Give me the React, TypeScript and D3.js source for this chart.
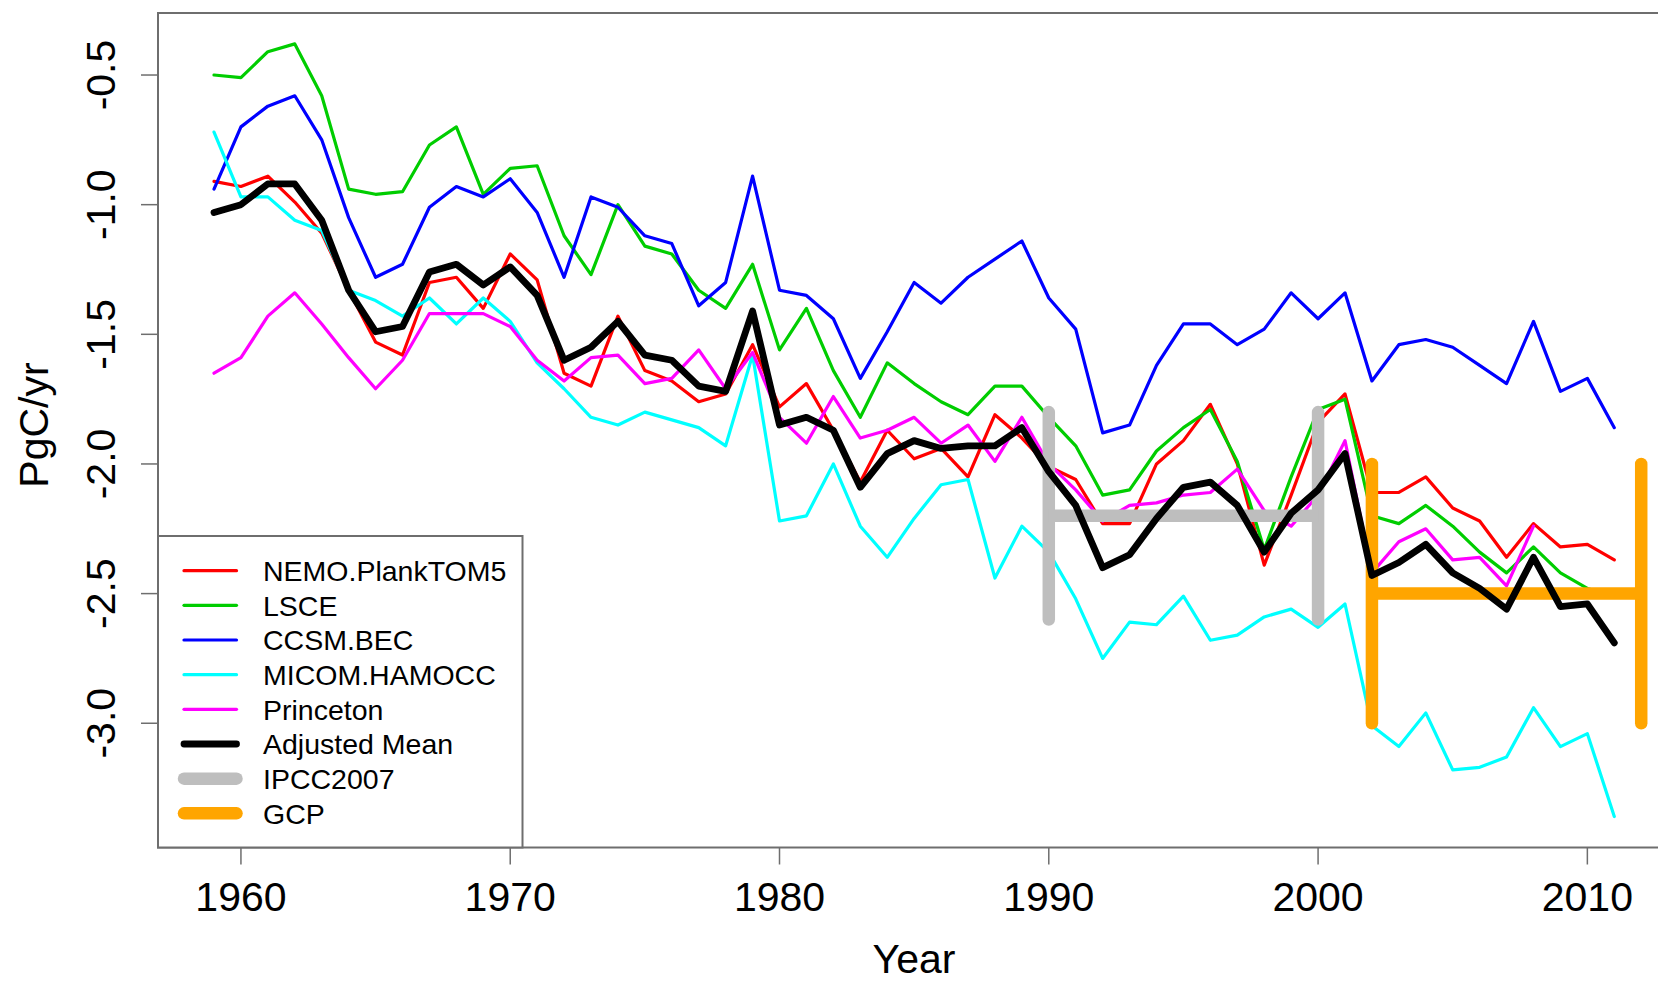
import React from "react";
import * as d3 from "d3";

// ocean CO2 sink, PgC/yr, 1959..2011
const years = d3.range(1959, 2012);

const nemo = [-0.91, -0.93, -0.89, -0.99, -1.11, -1.33, -1.53, -1.58, -1.30, -1.28, -1.40, -1.19, -1.29, -1.65, -1.70, -1.43, -1.64, -1.68, -1.76, -1.73, -1.54, -1.78, -1.69, -1.87, -2.07, -1.87, -1.98, -1.94, -2.05, -1.81, -1.90, -2.01, -2.06, -2.23, -2.23, -2.00, -1.91, -1.77, -2.00, -2.39, -2.12, -1.84, -1.73, -2.11, -2.11, -2.05, -2.17, -2.22, -2.36, -2.23, -2.32, -2.31, -2.37];
const lsce = [-0.50, -0.51, -0.41, -0.38, -0.58, -0.94, -0.96, -0.95, -0.77, -0.70, -0.96, -0.86, -0.85, -1.12, -1.27, -1.00, -1.16, -1.19, -1.33, -1.40, -1.23, -1.56, -1.40, -1.64, -1.82, -1.61, -1.69, -1.76, -1.81, -1.70, -1.70, -1.82, -1.93, -2.12, -2.10, -1.95, -1.86, -1.79, -1.99, -2.33, -2.05, -1.79, -1.75, -2.20, -2.23, -2.16, -2.24, -2.34, -2.42, -2.32, -2.42, -2.48, -2.51];
const ccsm = [-0.94, -0.70, -0.62, -0.58, -0.75, -1.05, -1.28, -1.23, -1.01, -0.93, -0.97, -0.90, -1.03, -1.28, -0.97, -1.01, -1.12, -1.15, -1.39, -1.30, -0.89, -1.33, -1.35, -1.44, -1.67, -1.49, -1.30, -1.38, -1.28, -1.21, -1.14, -1.36, -1.48, -1.88, -1.85, -1.62, -1.46, -1.46, -1.54, -1.48, -1.34, -1.44, -1.34, -1.68, -1.54, -1.52, -1.55, -1.62, -1.69, -1.45, -1.72, -1.67, -1.86];
const micom = [-0.72, -0.97, -0.97, -1.06, -1.10, -1.33, -1.37, -1.43, -1.36, -1.46, -1.36, -1.45, -1.61, -1.71, -1.82, -1.85, -1.80, -1.83, -1.86, -1.93, -1.58, -2.22, -2.20, -2.00, -2.24, -2.36, -2.21, -2.08, -2.06, -2.44, -2.24, -2.34, -2.52, -2.75, -2.61, -2.62, -2.51, -2.68, -2.66, -2.59, -2.56, -2.63, -2.54, -3.01, -3.09, -2.96, -3.18, -3.17, -3.13, -2.94, -3.09, -3.04, -3.36];
const princeton = [-1.65, -1.59, -1.43, -1.34, -1.46, -1.59, -1.71, -1.60, -1.42, -1.42, -1.42, -1.47, -1.60, -1.68, -1.59, -1.58, -1.69, -1.67, -1.56, -1.71, -1.57, -1.82, -1.92, -1.74, -1.90, -1.87, -1.82, -1.92, -1.85, -1.99, -1.82, -2.00, -2.10, -2.22, -2.16, -2.15, -2.12, -2.11, -2.02, -2.18, -2.24, -2.12, -1.91, -2.42, -2.30, -2.25, -2.37, -2.36, -2.47, -2.24, NaN, NaN, NaN];
const adjMean = [-1.03, -1.00, -0.92, -0.92, -1.06, -1.33, -1.49, -1.47, -1.26, -1.23, -1.31, -1.24, -1.35, -1.60, -1.55, -1.45, -1.58, -1.60, -1.70, -1.72, -1.41, -1.85, -1.82, -1.87, -2.09, -1.96, -1.91, -1.94, -1.93, -1.93, -1.86, -2.03, -2.16, -2.40, -2.35, -2.21, -2.09, -2.07, -2.16, -2.34, -2.19, -2.10, -1.96, -2.43, -2.38, -2.31, -2.42, -2.48, -2.56, -2.36, -2.55, -2.54, -2.69];

// IPCC2007 and GCP ranges: [start, end, mean, low, high]
const ipcc = [1990, 2000, -2.2, -2.6, -1.8];
const gcp = [2002, 2012, -2.5, -3.0, -2.0];

const xTicks = [1960, 1970, 1980, 1990, 2000, 2010];
const yTicks = [-0.5, -1.0, -1.5, -2.0, -2.5, -3.0];

const series = [
  { name: "NEMO.PlankTOM5", values: nemo, color: "#FF0000", w: 3.2 },
  { name: "LSCE", values: lsce, color: "#00CD00", w: 3.2 },
  { name: "CCSM.BEC", values: ccsm, color: "#0000FF", w: 3.2 },
  { name: "MICOM.HAMOCC", values: micom, color: "#00FFFF", w: 3.2 },
  { name: "Princeton", values: princeton, color: "#FF00FF", w: 3.2 },
];

const legendItems = [
  ...series.map(s => ({ name: s.name, color: s.color, w: s.w })),
  { name: "Adjusted Mean", color: "#000000", w: 6.8 },
  { name: "IPCC2007", color: "#BEBEBE", w: 12.5 },
  { name: "GCP", color: "#FFA500", w: 12.5 },
];

const W = 1658, H = 983;
const font = "'Liberation Sans', Arial, Helvetica, sans-serif";

// R-style 4% axis padding
function pad(ext) {
  const d = (ext[1] - ext[0]) * 0.04;
  return [ext[0] - d, ext[1] + d];
}

export default function App() {
  const left = 158, right = 1670.3, top = 13, bottom = 847.5;
  const allY = [...nemo, ...lsce, ...ccsm, ...micom, ...princeton, ...adjMean].filter(v => !isNaN(v));
  const x = d3.scaleLinear().domain(pad(d3.extent(years))).range([left, right]);
  const y = d3.scaleLinear().domain(pad(d3.extent(allY))).range([bottom, top]);

  const line = d3.line()
    .defined(d => !isNaN(d[1]))
    .x(d => x(d[0]))
    .y(d => y(d[1]));
  const pts = vals => years.map((yr, i) => [yr, vals[i]]);

  const bracket = (r, color) => (
    <g stroke={color} strokeWidth={12.5} strokeLinecap="round" fill="none">
      <line x1={x(r[0])} x2={x(r[0])} y1={y(r[3])} y2={y(r[4])} />
      <line x1={x(r[1])} x2={x(r[1])} y1={y(r[3])} y2={y(r[4])} />
      <line x1={x(r[0])} x2={x(r[1])} y1={y(r[2])} y2={y(r[2])} strokeLinecap="butt" />
    </g>
  );

  const legX = left, legY = 536, legW = 364.5, legH = bottom - 536;
  const rowY0 = 570.7, rowStep = 34.66;

  return (
    <div style={{ position: "absolute", left: 0, top: 0 }}>
      <svg width={W} height={H} style={{ display: "block", background: "#fff" }} fontFamily={font}>
        <defs>
          <clipPath id="plot">
            <rect x={left} y={top} width={right - left} height={bottom - top} />
          </clipPath>
        </defs>
        <g clipPath="url(#plot)" fill="none" strokeLinejoin="round" strokeLinecap="round">
          {series.map(s => (
            <path key={s.name} d={line(pts(s.values))} stroke={s.color} strokeWidth={s.w} />
          ))}
          {bracket(ipcc, "#BEBEBE")}
          {bracket(gcp, "#FFA500")}
          <path d={line(pts(adjMean))} stroke="#000" strokeWidth={6.8} />
        </g>

        {/* box */}
        <rect x={left} y={top} width={right - left} height={bottom - top} fill="none" stroke="#6e6e6e" strokeWidth={2} />

        {/* x axis */}
        {xTicks.map(t => (
          <g key={t}>
            <line x1={x(t)} x2={x(t)} y1={bottom} y2={bottom + 17} stroke="#6e6e6e" strokeWidth={1.5} />
            <text x={x(t)} y={911} fontSize={41} textAnchor="middle" fill="#000">{t}</text>
          </g>
        ))}
        {/* y axis */}
        {yTicks.map(t => (
          <g key={t}>
            <line x1={left - 17} x2={left} y1={y(t)} y2={y(t)} stroke="#6e6e6e" strokeWidth={1.5} />
            <text transform={`translate(115,${y(t)}) rotate(-90)`} fontSize={41} textAnchor="middle" fill="#000">
              {t.toFixed(1)}
            </text>
          </g>
        ))}
        <text x={914} y={973} fontSize={41} textAnchor="middle" fill="#000">Year</text>
        <text transform="translate(48,425) rotate(-90)" fontSize={41} textAnchor="middle" fill="#000">PgC/yr</text>

        {/* legend */}
        <rect x={legX} y={legY} width={legW} height={legH} fill="#fff" stroke="#6e6e6e" strokeWidth={2} />
        {legendItems.map((it, i) => {
          const ry = rowY0 + i * rowStep;
          return (
            <g key={it.name}>
              <line x1={184} x2={236.5} y1={ry} y2={ry} stroke={it.color} strokeWidth={it.w} strokeLinecap="round" />
              <text x={263} y={ry + 10.3} fontSize={28.5} fill="#000">{it.name}</text>
            </g>
          );
        })}
      </svg>
    </div>
  );
}
